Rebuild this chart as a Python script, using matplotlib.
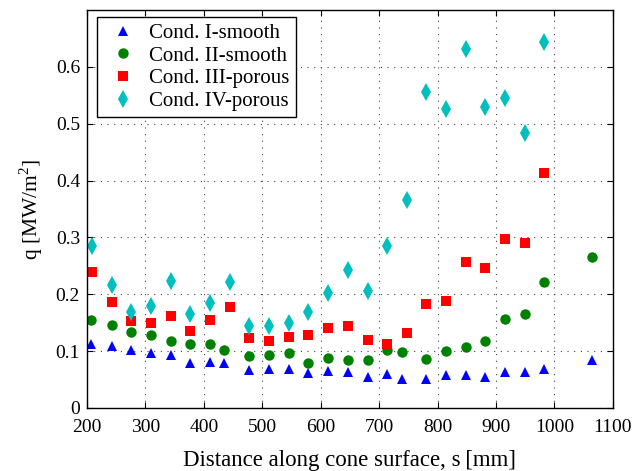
import numpy as np
import matplotlib
matplotlib.use('Agg')
from matplotlib import pyplot as plt
from matplotlib.ticker import FuncFormatter

# フォント設定 (Times風)
plt.rcParams['font.family'] = ['Liberation Serif', 'DejaVu Serif']
plt.rcParams['mathtext.fontset'] = 'custom'
plt.rcParams['mathtext.rm'] = 'Liberation Serif'

# データ
s_smooth = [207, 242, 275, 309, 343, 377, 411, 435, 478, 512, 546, 579, 612,
            646, 681, 714, 739, 781, 815, 849, 882, 916, 950, 983, 1064]
q_cond1 = [0.112, 0.109, 0.102, 0.096, 0.093, 0.079, 0.081, 0.079, 0.066, 0.069,
           0.069, 0.061, 0.065, 0.063, 0.055, 0.060, 0.051, 0.051, 0.058, 0.058,
           0.055, 0.063, 0.063, 0.069, 0.085]
q_cond2 = [0.155, 0.146, 0.133, 0.128, 0.118, 0.112, 0.112, 0.102, 0.091, 0.093,
           0.096, 0.079, 0.088, 0.085, 0.085, 0.102, 0.099, 0.086, 0.100, 0.108,
           0.118, 0.157, 0.166, 0.222, 0.265]

s_porous = [208, 242, 276, 309, 343, 377, 411, 445, 478, 512, 546, 579, 612,
            646, 681, 714, 748, 781, 815, 849, 882, 916, 950, 983]
q_cond3 = [0.240, 0.187, 0.153, 0.149, 0.162, 0.135, 0.155, 0.178, 0.123, 0.118,
           0.125, 0.129, 0.141, 0.145, 0.120, 0.112, 0.132, 0.183, 0.188, 0.257,
           0.247, 0.298, 0.290, 0.413]
q_cond4 = [0.285, 0.216, 0.169, 0.179, 0.224, 0.165, 0.185, 0.222, 0.145, 0.145,
           0.150, 0.169, 0.202, 0.242, 0.206, 0.285, 0.366, 0.556, 0.525, 0.631,
           0.529, 0.546, 0.484, 0.643]

labels = ['Cond. I-smooth', 'Cond. II-smooth', 'Cond. III-porous', 'Cond. IV-porous']
x_ticks = list(range(200, 1101, 100))
y_ticks = [0, 0.1, 0.2, 0.3, 0.4, 0.5, 0.6]

fig = plt.figure(figsize=(6.41, 4.71), dpi=100)
ax = fig.add_axes([0.1357, 0.1338, 0.8203, 0.845])

ax.plot(s_smooth, q_cond1, '^', color='#0000ff', markersize=7.5, markeredgewidth=0, label=labels[0])
ax.plot(s_smooth, q_cond2, 'o', color='#008000', markersize=7.5, markeredgewidth=0, label=labels[1])
ax.plot(s_porous, q_cond3, 's', color='#ff0000', markersize=6.5, markeredgewidth=0, label=labels[2])
ax.plot(s_porous, q_cond4, 'd', color='#00bfbf', markersize=9, markeredgewidth=0, label=labels[3])

ax.set_xlim(200, 1100)
ax.set_ylim(0, 0.7)
ax.set_xticks(x_ticks)
ax.set_yticks(y_ticks)
ax.yaxis.set_major_formatter(FuncFormatter(lambda v, p: '0' if v == 0 else '%g' % v))
ax.tick_params(direction='in', top=True, right=True, labelsize=14, length=4, width=0.8)
ax.tick_params(axis='x', pad=8)
ax.tick_params(axis='y', pad=5)
ax.grid(True, color='#444444', linestyle=(0, (1, 5)), linewidth=0.8)
for sp in ax.spines.values():
    sp.set_linewidth(1.0)

ax.set_xlabel('Distance along cone surface, s\u2009[mm]', fontsize=16.5, labelpad=10)
ax.set_ylabel('q [MW/m$^2$]', fontsize=15.5, labelpad=8)

leg = ax.legend(loc='upper left', bbox_to_anchor=(0.019, 0.982), borderaxespad=0,
                fontsize=15, fancybox=False, framealpha=1, edgecolor='black',
                handlelength=1.9, handletextpad=0.3, borderpad=0.3, labelspacing=0.15)
leg.get_frame().set_linewidth(1.0)

plt.savefig('out.png', dpi=100)
